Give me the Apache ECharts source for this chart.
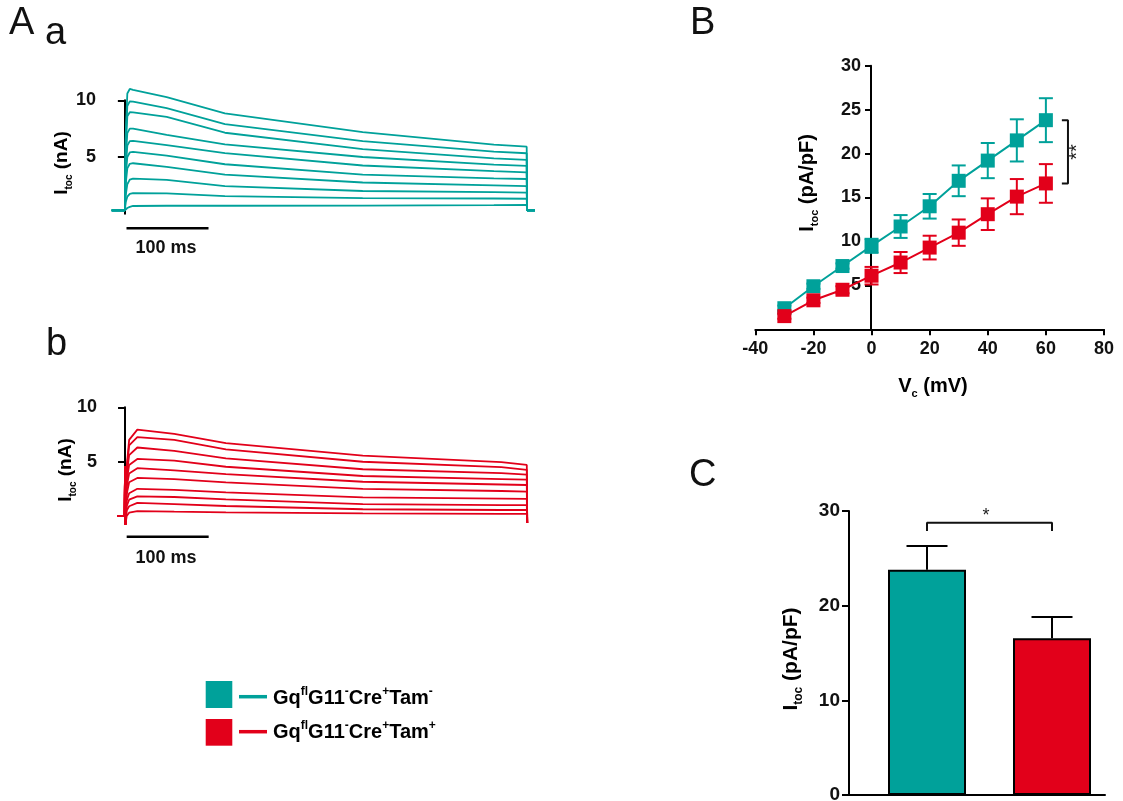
<!DOCTYPE html>
<html>
<head>
<meta charset="utf-8">
<script src="https://cdn.jsdelivr.net/npm/echarts@6/dist/echarts.min.js"></script>
<style>
html, body { margin: 0; padding: 0; background: #fff; }
#chart { width: 1123px; height: 801px; }
</style>
</head>
<body>
<div id="chart"></div>
<script>
const TEAL = '#00a19a';
const RED = '#e2001a';
const FONT = '"Liberation Sans", Arial, sans-serif';

// Aa: Tam- current traces (time in ms, current in nA)
const tealTimes = [-16, 0, 1, 3, 6, 10, 51, 122, 290, 450, 490, 490.5, 500];
const tealTraces = [
  [0.3, 0.3, 7.0, 10.6, 11.0, 10.92, 10.29, 8.85, 7.2, 6.1, 5.91, 0.3, 0.3],
  [0.3, 0.3, 6.5, 9.5, 9.9, 9.88, 9.32, 7.9, 6.4, 5.47, 5.33, 0.3, 0.3],
  [0.3, 0.3, 5.8, 8.6, 8.95, 8.94, 8.53, 7.14, 5.7, 4.88, 4.74, 0.3, 0.3],
  [0.3, 0.3, 4.8, 7.1, 7.5, 7.5, 6.95, 6.12, 5.0, 4.32, 4.21, 0.3, 0.3],
  [0.3, 0.3, 4.0, 6.0, 6.4, 6.42, 6.05, 5.35, 4.25, 3.75, 3.65, 0.3, 0.3],
  [0.3, 0.3, 3.3, 5.0, 5.4, 5.45, 5.12, 4.36, 3.45, 3.12, 3.06, 0.3, 0.3],
  [0.3, 0.3, 2.6, 4.0, 4.4, 4.45, 4.12, 3.44, 2.75, 2.5, 2.44, 0.3, 0.3],
  [0.3, 0.3, 1.6, 2.6, 3.0, 3.1, 2.98, 2.44, 2.0, 1.9, 1.85, 0.3, 0.3],
  [0.3, 0.3, 1.0, 1.5, 1.75, 1.82, 1.8, 1.55, 1.38, 1.34, 1.32, 0.3, 0.3],
  [0.3, 0.3, 0.4, 0.5, 0.6, 0.68, 0.7, 0.7, 0.72, 0.75, 0.77, 0.3, 0.3]
];

// Ab: Tam+ current traces
const redTimes = [-9, -0.5, 0, 0.5, 2, 5, 15, 60, 123, 290, 459, 490, 490.5];
const redTraces = [
  [0, 0, 4.6, -0.8, 4.5, 7.0, 7.95, 7.55, 6.7, 5.55, 4.95, 4.7, -0.65],
  [0, 0, 4.6, -0.8, 4.2, 6.5, 7.25, 7.0, 6.13, 4.99, 4.5, 4.25, -0.65],
  [0, 0, 4.6, -0.8, 3.8, 5.6, 6.3, 6.0, 5.3, 4.3, 3.95, 3.8, -0.65],
  [0, 0, 4.6, -0.8, 3.2, 4.7, 5.25, 5.1, 4.53, 3.68, 3.4, 3.35, -0.65],
  [0, 0, 4.6, -0.8, 2.7, 3.9, 4.4, 4.2, 3.86, 3.15, 2.9, 2.85, -0.65],
  [0, 0, 4.6, -0.8, 2.0, 3.1, 3.5, 3.4, 3.1, 2.5, 2.3, 2.25, -0.65],
  [0, 0, 4.6, -0.8, 1.4, 2.1, 2.5, 2.4, 2.18, 1.72, 1.6, 1.58, -0.65],
  [0, 0, 4.6, -0.8, 0.9, 1.5, 1.8, 1.75, 1.53, 1.1, 1.0, 1.0, -0.65],
  [0, 0, 4.6, -0.8, 0.5, 0.9, 1.2, 1.1, 0.92, 0.62, 0.55, 0.55, -0.65],
  [0, 0, 4.6, -0.8, 0.0, 0.3, 0.45, 0.4, 0.34, 0.25, 0.2, 0.2, -0.65]
];
const scaleBarMs = [2, 102];

// B: current density vs voltage
const voltages = [-30, -20, -10, 0, 10, 20, 30, 40, 50, 60];
const ivTeal = [2.4, 4.9, 7.2, 9.5, 11.7, 14.0, 16.9, 19.2, 21.5, 23.8];
const ivTealErr = [0.3, 0.3, 0.3, 0.8, 1.3, 1.4, 1.75, 2.0, 2.4, 2.5];
const ivRed = [1.5, 3.3, 4.5, 6.1, 7.6, 9.3, 11.0, 13.1, 15.1, 16.6];
const ivRedErr = [0.3, 0.3, 0.4, 1.0, 1.2, 1.35, 1.5, 1.8, 2.0, 2.2];

// C: mean density at +60 mV
const groups = ['Tam-', 'Tam+'];
const barMeans = [23.8, 16.55];
const barErr = [2.5, 2.25];
const barColors = [TEAL, RED];

const chart = echarts.init(document.getElementById('chart'));

const tickFont = { color: '#111', fontWeight: 'bold', fontFamily: FONT };
const blackLine = { show: true, lineStyle: { color: '#000', width: 2 } };

function errorBars(halfCap, upOnly) {
  return function (params, api) {
    const x = api.value(0), m = api.value(1), e = api.value(2);
    const top = api.coord([x, m + e]);
    const bot = api.coord([x, upOnly ? m : m - e]);
    const style = { stroke: api.visual('color'), lineWidth: 2 };
    const kids = [
      { type: 'line', shape: { x1: top[0], y1: top[1], x2: bot[0], y2: bot[1] }, style },
      { type: 'line', shape: { x1: top[0] - halfCap, y1: top[1], x2: top[0] + halfCap, y2: top[1] }, style }
    ];
    if (!upOnly) {
      kids.push({ type: 'line', shape: { x1: bot[0] - halfCap, y1: bot[1], x2: bot[0] + halfCap, y2: bot[1] }, style });
    }
    return { type: 'group', children: kids };
  };
}

function traceSeries(times, traces, color, idx) {
  return traces.map(tr => ({
    type: 'line', xAxisIndex: idx, yAxisIndex: idx,
    data: times.map((t, i) => [t, tr[i]]),
    symbol: 'none', clip: false, silent: true,
    lineStyle: { color, width: 1.8 }
  }));
}

function scaleBar(idx, level) {
  return {
    type: 'line', xAxisIndex: idx, yAxisIndex: idx, clip: false, symbol: 'none',
    data: scaleBarMs.map(t => [t, level]),
    lineStyle: { color: '#000', width: 2.5 }
  };
}

const richAxis = size => ({
  b: { fontSize: size, fontWeight: 'bold', fontFamily: FONT, color: '#111', lineHeight: size + 6 },
  s: { fontSize: Math.round(size * 0.55), fontWeight: 'bold', fontFamily: FONT, color: '#111', verticalAlign: 'bottom', lineHeight: 10 }
});
const richLegend = {
  t: { fontSize: 20, fontWeight: 'bold', fontFamily: FONT, color: '#222', lineHeight: 24 },
  p: { fontSize: 12, fontWeight: 'bold', fontFamily: FONT, color: '#222', verticalAlign: 'top', lineHeight: 12 }
};

function label(text, x, y, size) {
  return {
    type: 'text', x, y,
    style: { text, fontSize: size, fontFamily: FONT, fill: '#111', align: 'left', verticalAlign: 'middle' }
  };
}

function vTitle(text, x, y, size) {
  return {
    type: 'text', x, y, rotation: Math.PI / 2,
    style: { text, rich: richAxis(size), align: 'center', verticalAlign: 'middle' }
  };
}

const option = {
  animation: false,
  backgroundColor: '#fff',
  grid: [
    { left: 106, top: 100.3, width: 428.9, height: 113.4, outerBoundsMode: 'none' },
    { left: 107, top: 407.3, width: 428, height: 108.7, outerBoundsMode: 'none' },
    { left: 755.3, top: 65.7, width: 348.7, height: 263.6, outerBoundsMode: 'none' },
    { left: 849, top: 511, width: 256, height: 284, outerBoundsMode: 'none' }
  ],
  xAxis: [
    { gridIndex: 0, type: 'value', min: -23, max: 500, show: false },
    { gridIndex: 1, type: 'value', min: -22, max: 500, show: false },
    {
      gridIndex: 2, type: 'value', min: -40, max: 80, interval: 20,
      axisLine: blackLine, splitLine: { show: false },
      axisTick: { show: true, length: 6, lineStyle: { color: '#000', width: 2 } },
      axisLabel: Object.assign({ fontSize: 18, margin: 11 }, tickFont)
    },
    {
      gridIndex: 3, type: 'value', min: 0.376, max: 2.424,
      axisLine: blackLine, axisTick: { show: false }, axisLabel: { show: false }, splitLine: { show: false }
    }
  ],
  yAxis: [0, 1].map(i => ({
    gridIndex: i, type: 'value', min: 0, max: 10,
    axisLine: blackLine, splitLine: { show: false },
    axisTick: { show: true, length: 7, customValues: [5, 10], lineStyle: { color: '#000', width: 2 } },
    axisLabel: Object.assign({ fontSize: 18, margin: 10, customValues: [5, 10] }, tickFont)
  })).concat([
    {
      // drawn through V = 0: shifted right from the grid's left edge
      gridIndex: 2, type: 'value', min: 0, max: 30, interval: 5,
      position: 'left', offset: -115.7,
      axisLine: { show: true, onZero: false, lineStyle: { color: '#000', width: 2 } },
      splitLine: { show: false },
      axisTick: { show: true, length: 6, customValues: [5, 10, 15, 20, 25, 30], lineStyle: { color: '#000', width: 2 } },
      axisLabel: Object.assign({ fontSize: 18, margin: 10, customValues: [5, 10, 15, 20, 25, 30] }, tickFont)
    },
    {
      gridIndex: 3, type: 'value', min: 0, max: 30, interval: 10,
      axisLine: blackLine, splitLine: { show: false },
      axisTick: { show: true, length: 7, lineStyle: { color: '#000', width: 2 } },
      axisLabel: Object.assign({ fontSize: 19, margin: 9 }, tickFont)
    }
  ]),
  series: [
    ...traceSeries(tealTimes, tealTraces, TEAL, 0),
    ...traceSeries(redTimes, redTraces, RED, 1),
    scaleBar(0, -1.29),
    scaleBar(1, -1.9),
    {
      type: 'custom', xAxisIndex: 2, yAxisIndex: 2, itemStyle: { color: TEAL }, z: 2,
      renderItem: errorBars(7, false),
      data: voltages.map((v, i) => [v, ivTeal[i], ivTealErr[i]])
    },
    {
      type: 'line', xAxisIndex: 2, yAxisIndex: 2, z: 3,
      data: voltages.map((v, i) => [v, ivTeal[i]]),
      symbol: 'rect', symbolSize: 14, color: TEAL,
      lineStyle: { color: TEAL, width: 2 }, itemStyle: { color: TEAL }
    },
    {
      type: 'custom', xAxisIndex: 2, yAxisIndex: 2, itemStyle: { color: RED }, z: 4,
      renderItem: errorBars(7, false),
      data: voltages.map((v, i) => [v, ivRed[i], ivRedErr[i]])
    },
    {
      type: 'line', xAxisIndex: 2, yAxisIndex: 2, z: 5,
      data: voltages.map((v, i) => [v, ivRed[i]]),
      symbol: 'rect', symbolSize: 14, color: RED,
      lineStyle: { color: RED, width: 2 }, itemStyle: { color: RED }
    },
    {
      // ** bracket between the two +60 mV means
      type: 'line', xAxisIndex: 2, yAxisIndex: 2, clip: false, symbol: 'none',
      data: [[65.5, ivTeal[9]], [67.6, ivTeal[9]], [67.6, ivRed[9]], [65.5, ivRed[9]]],
      lineStyle: { color: '#111', width: 2 }
    },
    {
      type: 'bar', xAxisIndex: 3, yAxisIndex: 3, barWidth: 78, z: 2,
      data: barMeans.map((m, i) => ({ name: groups[i], value: [i + 1, m], itemStyle: { color: barColors[i] } })),
      itemStyle: { borderColor: '#000', borderWidth: 2 }
    },
    {
      type: 'custom', xAxisIndex: 3, yAxisIndex: 3, itemStyle: { color: '#000' }, z: 3,
      renderItem: errorBars(20.5, true),
      data: barMeans.map((m, i) => [i + 1, m, barErr[i]])
    },
    {
      type: 'line', xAxisIndex: 3, yAxisIndex: 3, clip: false, symbol: 'none',
      data: [[1, 27.9], [1, 28.75], [2, 28.75], [2, 27.9]],
      lineStyle: { color: '#111', width: 2 }
    }
  ],
  graphic: [
    label('A', 9, 24, 38),
    label('a', 45, 34, 38),
    label('b', 46, 345, 38),
    label('B', 690, 24, 38),
    label('C', 689, 476, 38),
    {
      type: 'text', x: 166, y: 248,
      style: { text: '100 ms', fontSize: 18, fontWeight: 'bold', fontFamily: FONT, fill: '#111', align: 'center', verticalAlign: 'middle' }
    },
    {
      type: 'text', x: 166, y: 558,
      style: { text: '100 ms', fontSize: 18, fontWeight: 'bold', fontFamily: FONT, fill: '#111', align: 'center', verticalAlign: 'middle' }
    },
    vTitle('{b|I}{s|toc}{b| (nA)}', 62, 163, 19),
    vTitle('{b|I}{s|toc}{b| (nA)}', 66, 470, 19),
    vTitle('{b|I}{s|toc}{b| (pA/pF)}', 807, 183, 20),
    vTitle('{b|I}{s|toc}{b| (pA/pF)}', 791, 659, 21),
    {
      type: 'text', x: 933, y: 386,
      style: { text: '{b|V}{s|c}{b| (mV)}', rich: richAxis(20), align: 'center', verticalAlign: 'middle' }
    },
    {
      type: 'text', x: 1077, y: 152, rotation: Math.PI / 2,
      style: { text: '**', fontSize: 20, fontFamily: FONT, fill: '#222', align: 'center', verticalAlign: 'middle' }
    },
    {
      type: 'text', x: 986, y: 516,
      style: { text: '*', fontSize: 18, fontFamily: FONT, fill: '#222', align: 'center', verticalAlign: 'middle' }
    },
    { type: 'rect', shape: { x: 205.7, y: 681, width: 26.6, height: 27 }, style: { fill: TEAL } },
    { type: 'rect', shape: { x: 205.7, y: 719, width: 26.6, height: 26.7 }, style: { fill: RED } },
    { type: 'line', shape: { x1: 239, y1: 696.7, x2: 267, y2: 696.7 }, style: { stroke: TEAL, lineWidth: 3.5 } },
    { type: 'line', shape: { x1: 239, y1: 731.7, x2: 267, y2: 731.7 }, style: { stroke: RED, lineWidth: 3.5 } },
    {
      type: 'text', x: 273, y: 698,
      style: { text: '{t|Gq}{p|fl}{t|G11}{p|-}{t|Cre}{p|+}{t|Tam}{p|-}', rich: richLegend, align: 'left', verticalAlign: 'middle' }
    },
    {
      type: 'text', x: 273, y: 732,
      style: { text: '{t|Gq}{p|fl}{t|G11}{p|-}{t|Cre}{p|+}{t|Tam}{p|+}', rich: richLegend, align: 'left', verticalAlign: 'middle' }
    }
  ]
};

chart.setOption(option);
</script>
</body>
</html>
